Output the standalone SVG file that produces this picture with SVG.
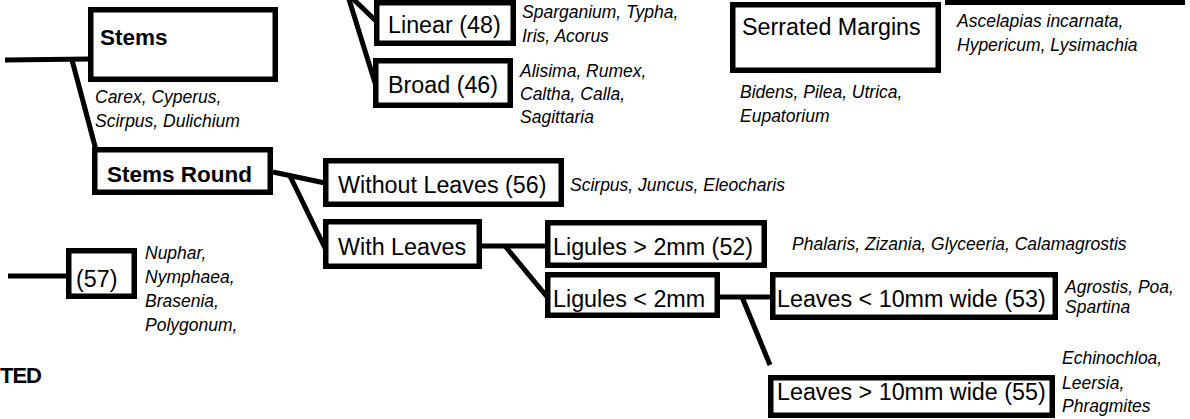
<svg xmlns="http://www.w3.org/2000/svg" width="1190" height="419" viewBox="0 0 1190 419">
<style>
  .box { fill: #ffffff; stroke: #000000; stroke-width: 5.5; }
  .edge { fill: none; stroke: #000000; stroke-width: 5; stroke-linecap: butt; }
  .lbl { font-family: "Liberation Sans", Arial, sans-serif; font-size: 23.3px; fill: #000000; }
  .bold { font-family: "Liberation Sans", Arial, sans-serif; font-size: 22.5px; font-weight: bold; fill: #000000; }
  .sp { font-family: "Liberation Sans", Arial, sans-serif; font-size: 17.5px; font-style: italic; fill: #000000; }
  .head { font-family: "Liberation Sans", Arial, sans-serif; font-size: 22px; font-weight: 900; letter-spacing: -1px; fill: #000000; }
</style>
<rect width="1190" height="419" fill="#ffffff"/>

<g id="connectors">
  <path class="edge" d="M5,60 L90,59"/>
  <path class="edge" d="M72,60 L96,150"/>
  <path class="edge" d="M347,-7 L377,22"/>
  <path class="edge" d="M347,-7 L376,86"/>
  <path class="edge" d="M273,172 L325,183"/>
  <path class="edge" d="M290,176 L325,248"/>
  <path class="edge" d="M482,246 L547,246"/>
  <path class="edge" d="M505,246 L548,298"/>
  <path class="edge" d="M720,297 L772,297"/>
  <path class="edge" d="M742,297 L770,365"/>
  <path class="edge" d="M8,276 L68,276"/>
</g>

<g id="node-stems">
  <rect class="box" x="90.75" y="9.75" width="184.5" height="69.5"/>
  <text class="bold" x="100" y="45">Stems</text>
  <text class="sp" x="95" y="103">Carex, Cyperus,</text>
  <text class="sp" x="95" y="127">Scirpus, Dulichium</text>
</g>

<g id="node-linear">
  <rect class="box" x="376.75" y="2.75" width="136.5" height="40.5"/>
  <text class="lbl" x="388" y="33">Linear (48)</text>
  <text class="sp" x="522" y="18">Sparganium, Typha,</text>
  <text class="sp" x="522" y="42">Iris, Acorus</text>
</g>

<g id="node-broad">
  <rect class="box" x="375.75" y="60.75" width="134.5" height="44.5"/>
  <text class="lbl" x="388" y="93">Broad (46)</text>
  <text class="sp" x="520" y="77">Alisima, Rumex,</text>
  <text class="sp" x="520" y="100">Caltha, Calla,</text>
  <text class="sp" x="520" y="123">Sagittaria</text>
</g>

<g id="node-serrated">
  <rect class="box" x="732.75" y="4.75" width="205.5" height="65.5"/>
  <text class="lbl" x="742" y="35">Serrated Margins</text>
  <text class="sp" x="740" y="98">Bidens, Pilea, Utrica,</text>
  <text class="sp" x="740" y="122">Eupatorium</text>
</g>

<g id="node-topright">
  <rect class="box" x="947.75" y="-60" width="234.5" height="62.25"/>
  <text class="sp" x="957" y="27">Ascelapias incarnata,</text>
  <text class="sp" x="957" y="51">Hypericum, Lysimachia</text>
</g>

<g id="node-stems-round">
  <rect class="box" x="94.75" y="149.75" width="175.5" height="42.5"/>
  <text class="bold" x="107" y="182">Stems Round</text>
</g>

<g id="node-without-leaves">
  <rect class="box" x="325.75" y="160.75" width="235.5" height="43.5"/>
  <text class="lbl" x="338" y="193">Without Leaves (56)</text>
  <text class="sp" x="570" y="191">Scirpus, Juncus, Eleocharis</text>
</g>

<g id="node-with-leaves">
  <rect class="box" x="325.75" y="221.75" width="153.5" height="44.5"/>
  <text class="lbl" x="338" y="255">With Leaves</text>
</g>

<g id="node-ligules-gt">
  <rect class="box" x="547.75" y="222.75" width="216.5" height="42.5"/>
  <text class="lbl" x="553" y="255">Ligules &gt; 2mm (52)</text>
  <text class="sp" x="792" y="250">Phalaris, Zizania, Glyceeria, Calamagrostis</text>
</g>

<g id="node-ligules-lt">
  <rect class="box" x="547.75" y="274.75" width="169.5" height="40.5"/>
  <text class="lbl" x="553" y="307">Ligules &lt; 2mm</text>
</g>

<g id="node-leaves-lt">
  <rect class="box" x="772.75" y="274.75" width="282.5" height="42.5"/>
  <text class="lbl" x="777" y="307">Leaves &lt; 10mm wide (53)</text>
  <text class="sp" x="1065" y="293">Agrostis, Poa,</text>
  <text class="sp" x="1065" y="313">Spartina</text>
</g>

<g id="node-leaves-gt">
  <rect class="box" x="770.75" y="377.75" width="281.5" height="37.5"/>
  <text class="lbl" x="777" y="400">Leaves &gt; 10mm wide (55)</text>
  <text class="sp" x="1062" y="364">Echinochloa,</text>
  <text class="sp" x="1062" y="389">Leersia,</text>
  <text class="sp" x="1062" y="412">Phragmites</text>
</g>

<g id="node-57">
  <rect class="box" x="68.75" y="250.75" width="65.5" height="45.5"/>
  <text class="lbl" x="76" y="287">(57)</text>
  <text class="sp" x="145" y="259">Nuphar,</text>
  <text class="sp" x="145" y="283">Nymphaea,</text>
  <text class="sp" x="145" y="307">Brasenia,</text>
  <text class="sp" x="145" y="331">Polygonum,</text>
</g>

<g id="heading">
  <text class="head" x="0" y="383">TED</text>
</g>
</svg>
